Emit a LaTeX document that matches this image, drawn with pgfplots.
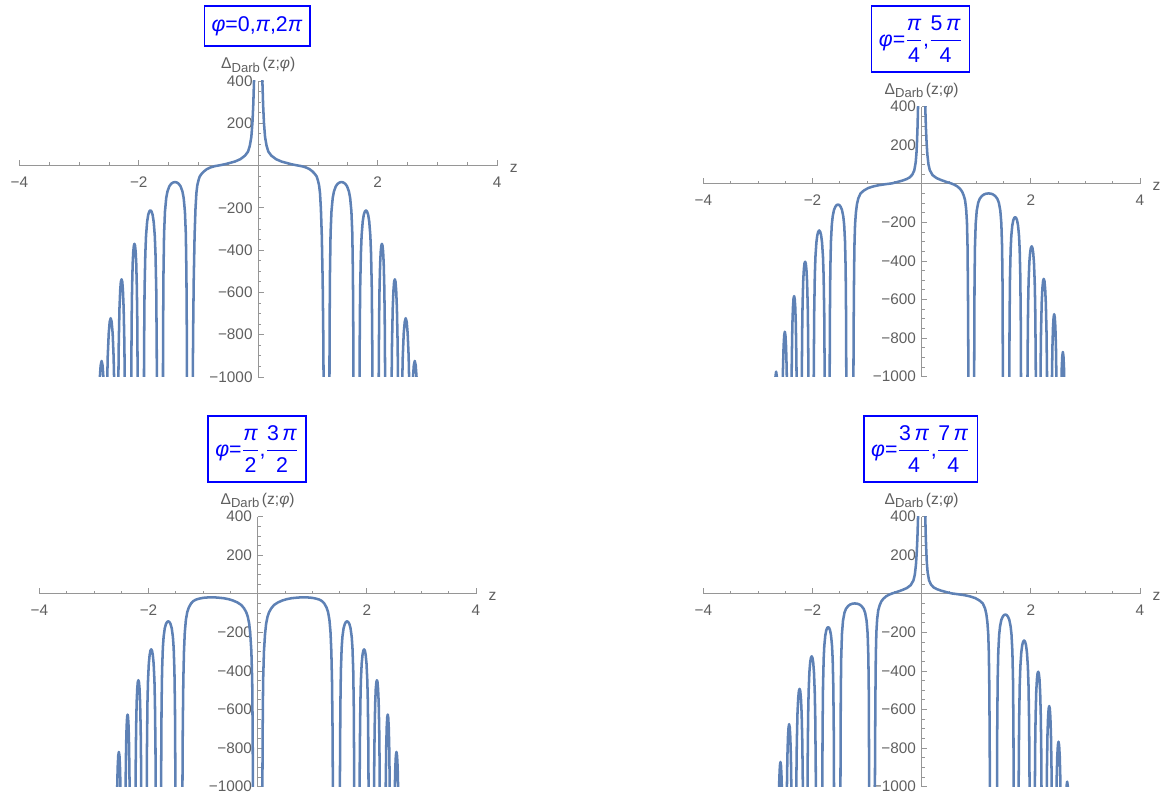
\documentclass[border=0pt]{standalone}
\usepackage{fontspec}
\setmainfont{Liberation Sans}
\usepackage{pgfplots}
\usepackage{pgfplotstable}
\pgfplotsset{compat=1.18}

\definecolor{curve}{RGB}{94,129,181}
\definecolor{axgray}{RGB}{150,150,150}
\definecolor{labgray}{RGB}{95,95,95}
\definecolor{ttlblue}{RGB}{0,0,255}

\newcommand\fr[2]{$\displaystyle\frac{\mbox{#1}}{\mbox{#2}}$}
\newcommand\darb{Δ\raisebox{-0.45ex}{\fontsize{9.8}{10}\selectfont Darb}\,(z;\textit{φ})}

% phi = 0, pi, 2pi : right half (left half is the mirror image)
\pgfplotstableread{
z v
0.064 470
0.070 400
0.082 290
0.096 204
0.115 135
0.140 94
0.170 66
0.220 47
0.300 30
0.390 19
0.480 12
0.560 6
0.650 1
0.730 -3
0.800 -9
0.860 -17
0.910 -28
0.950 -40
0.980 -52
1.000 -70
1.020 -94
1.035 -130
1.050 -204
1.065 -330
1.080 -550
1.090 -800
1.097 -1100
1.14 nan
1.190 -1580
1.195 -800
1.202 -508
1.212 -321
1.227 -217
1.248 -153
1.269 -122
1.300 -98
1.331 -86
1.363 -80
1.394 -78
1.425 -80
1.457 -86
1.488 -98
1.519 -122
1.540 -153
1.561 -217
1.576 -321
1.586 -508
1.593 -800
1.598 -1580
1.645 nan
1.693 -1380
1.699 -872
1.707 -589
1.720 -416
1.732 -331
1.750 -266
1.768 -233
1.787 -217
1.805 -212
1.823 -217
1.842 -233
1.860 -266
1.878 -331
1.890 -416
1.903 -589
1.911 -872
1.917 -1380
1.967 nan
2.018 -1028
2.025 -726
2.032 -578
2.042 -464
2.052 -407
2.062 -379
2.072 -370
2.082 -379
2.092 -407
2.102 -464
2.112 -578
2.119 -726
2.126 -1028
2.18 nan
2.233 -1055
2.241 -841
2.253 -675
2.265 -591
2.276 -550
2.288 -538
2.300 -550
2.311 -591
2.323 -675
2.335 -841
2.343 -1055
2.37 nan
2.404 -1128
2.421 -905
2.437 -794
2.454 -739
2.470 -722
2.487 -739
2.503 -794
2.520 -905
2.536 -1128
2.56 nan
2.589 -1015
2.606 -945
2.622 -924
2.638 -945
2.655 -1015
}\tblA

% phi = pi/2, 3pi/2 : right half (left half is the mirror image)
\pgfplotstableread{
z v
0.085 -1100
0.092 -700
0.100 -450
0.115 -300
0.135 -210
0.155 -155
0.180 -120
0.210 -95
0.250 -75
0.300 -58
0.370 -45
0.450 -35
0.530 -28
0.620 -23
0.720 -20
0.820 -18
0.920 -19
1.000 -21
1.070 -25
1.130 -30
1.180 -38
1.220 -50
1.260 -70
1.290 -95
1.315 -135
1.335 -200
1.350 -300
1.362 -450
1.372 -700
1.380 -1100
1.44 nan
1.504 -1467
1.508 -931
1.515 -588
1.525 -397
1.539 -280
1.553 -223
1.574 -179
1.596 -157
1.617 -146
1.638 -143
1.659 -146
1.681 -157
1.702 -179
1.723 -223
1.737 -280
1.751 -397
1.761 -588
1.768 -931
1.772 -1467
1.82 nan
1.865 -1185
1.872 -800
1.882 -565
1.891 -450
1.906 -361
1.921 -317
1.935 -295
1.950 -288
1.965 -295
1.979 -317
1.994 -361
2.009 -450
2.019 -565
2.028 -800
2.035 -1185
2.08 nan
2.129 -1245
2.136 -879
2.143 -700
2.154 -562
2.164 -492
2.175 -458
2.185 -448
2.196 -458
2.206 -492
2.217 -562
2.227 -700
2.234 -879
2.241 -1245
2.29 nan
2.341 -1228
2.347 -978
2.356 -785
2.365 -688
2.374 -640
2.383 -626
2.392 -640
2.401 -688
2.410 -785
2.419 -978
2.425 -1228
2.47 nan
2.511 -1028
2.522 -901
2.532 -839
2.543 -820
2.554 -839
2.565 -901
2.575 -1028
}\tblC

% phi = pi/4, 5pi/4 (phi = 3pi/4, 7pi/4 is its mirror image)
\pgfplotstableread{
z v
-2.6885 -1070
-2.6773 -996
-2.666 -974
-2.6547 -996
-2.6435 -1070
-2.60 nan
-2.5524 -1198
-2.541 -962
-2.5297 -843
-2.5183 -785
-2.507 -767
-2.4957 -785
-2.4843 -843
-2.473 -962
-2.4616 -1198
-2.42 nan
-2.3863 -1141
-2.3792 -909
-2.3687 -730
-2.3581 -640
-2.3476 -595
-2.337 -582
-2.3264 -595
-2.3159 -640
-2.3053 -730
-2.2948 -909
-2.2877 -1141
-2.24 nan
-2.1982 -1122
-2.1903 -792
-2.1824 -631
-2.1706 -507
-2.1587 -444
-2.1469 -413
-2.135 -404
-2.1231 -413
-2.1113 -444
-2.0994 -507
-2.0876 -631
-2.0797 -792
-2.0718 -1122
-2.03 nan
-1.9828 -1575
-1.977 -995
-1.969 -672
-1.9575 -475
-1.946 -378
-1.9288 -304
-1.9115 -266
-1.8943 -248
-1.877 -242
-1.8597 -248
-1.8425 -266
-1.8252 -304
-1.808 -378
-1.7965 -475
-1.785 -672
-1.777 -995
-1.7712 -1575
-1.73 nan
-1.6864 -1108
-1.6816 -703
-1.6735 -444
-1.6622 -300
-1.6461 -212
-1.6299 -169
-1.6057 -135
-1.5815 -119
-1.5572 -110
-1.533 -108
-1.5088 -110
-1.4845 -119
-1.4603 -135
-1.4361 -169
-1.4199 -212
-1.4038 -300
-1.3925 -444
-1.3844 -703
-1.3796 -1108
-1.32 nan
-1.252 -1100
-1.245 -700
-1.238 -450
-1.230 -300
-1.220 -210
-1.205 -150
-1.185 -105
-1.160 -75
-1.120 -50
-1.060 -35
-0.980 -22
-0.880 -13
-0.780 -7
-0.660 -2
-0.550 2
-0.450 9
-0.360 16
-0.280 24
-0.220 33
-0.170 48
-0.135 70
-0.110 110
-0.095 160
-0.085 220
-0.075 300
-0.068 380
-0.064 440
0 nan
0.062 450
0.068 380
0.078 290
0.090 215
0.105 150
0.125 100
0.150 70
0.200 45
0.270 30
0.360 19
0.450 10
0.540 2
0.600 -5
0.650 -13
0.700 -25
0.740 -40
0.770 -60
0.795 -85
0.815 -130
0.830 -200
0.840 -320
0.848 -550
0.853 -800
0.858 -1100
0.91 nan
0.9577 -2512
0.9617 -1013
0.9685 -513
0.9766 -326
0.9901 -206
1.009 -139
1.036 -98
1.063 -78
1.1035 -63
1.144 -55
1.1845 -51
1.225 -50
1.2655 -51
1.306 -55
1.3465 -63
1.387 -78
1.414 -98
1.441 -139
1.4599 -206
1.4734 -326
1.4815 -513
1.4883 -1013
1.4923 -2512
1.55 nan
1.6044 -1126
1.6103 -712
1.6186 -481
1.6304 -339
1.6422 -270
1.6599 -217
1.6776 -190
1.6953 -177
1.713 -173
1.7307 -177
1.7484 -190
1.7661 -217
1.7838 -270
1.7956 -339
1.8074 -481
1.8157 -712
1.8216 -1126
1.88 nan
1.9341 -1333
1.9406 -900
1.9499 -635
1.9592 -506
1.9731 -406
1.9871 -356
2.001 -332
2.015 -324
2.029 -332
2.0429 -356
2.0569 -406
2.0708 -506
2.0801 -635
2.0894 -900
2.0959 -1333
2.13 nan
2.1698 -1370
2.1782 -967
2.1866 -770
2.1992 -618
2.2118 -542
2.2244 -504
2.237 -493
2.2496 -504
2.2622 -542
2.2748 -618
2.2874 -770
2.2958 -967
2.3042 -1370
2.34 nan
2.3848 -1056
2.3956 -848
2.4064 -743
2.4172 -692
2.428 -676
2.4388 -692
2.4496 -743
2.4604 -848
2.4712 -1056
2.51 nan
2.5555 -1094
2.566 -958
2.5765 -892
2.587 -872
2.5975 -892
2.608 -958
2.6185 -1094
}\tblB

\pgfplotsset{
  darb/.style={
    scale only axis,
    axis lines=middle,
    axis line style={-, draw=axgray, line width=0.75pt},
    xmin=-4, xmax=4, ymin=-1000, ymax=400,
    enlargelimits=false,
    xtick={-4,-2,0,2,4},
    xticklabels={−4,−2,,2,4},
    ytick={-1000,-800,-600,-400,-200,0,200,400},
    yticklabels={−1000,−800,−600,−400,−200,,200,400},
    minor x tick num=3,
    minor y tick num=3,
    tick align=inside,
    major tick length=4pt,
    minor tick length=2.3pt,
    tick style={draw=axgray, line width=0.6pt},
    tick label style={font=\fontsize{11.5}{13}\selectfont, text=labgray},
    xticklabel style={yshift=-5pt},
    yticklabel style={xshift=-0.7pt},
    xlabel={z},
    ylabel={\darb},
    xlabel style={at={(rel axis cs:1,0.7143)}, anchor=west, xshift=6pt, yshift=-2pt,
      font=\fontsize{11.7}{13}\selectfont, text=labgray},
    ylabel style={at={(rel axis cs:0.5,1)}, anchor=south, yshift=3pt, rotate=0,
      font=\fontsize{11.7}{13}\selectfont, text=labgray},
    unbounded coords=jump,
    clip=true,
  },
  dcurve/.style={draw=curve, line width=1.9pt, line join=round, no markers},
}

\begin{document}
\begin{tikzpicture}
\useasboundingbox (0,0) rectangle (876pt,601.5pt);

\begin{axis}[darb, at={(14.5pt,318.75pt)}, anchor=south west, width=358.3pt, height=222pt]
  \addplot[dcurve] table[x=z, y=v] {\tblA};
  \addplot[dcurve] table[x expr=-\thisrow{z}, y=v] {\tblA};
\end{axis}

\begin{axis}[darb, at={(527.5pt,319pt)}, anchor=south west, width=327.5pt, height=202.5pt]
  \addplot[dcurve] table[x=z, y=v] {\tblB};
\end{axis}

\begin{axis}[darb, at={(29.5pt,11.5pt)}, anchor=south west, width=327.5pt, height=202.5pt]
  \addplot[dcurve] table[x=z, y=v] {\tblC};
  \addplot[dcurve] table[x expr=-\thisrow{z}, y=v] {\tblC};
\end{axis}

\begin{axis}[darb, at={(527.5pt,11.5pt)}, anchor=south west, width=327.5pt, height=202.5pt]
  \addplot[dcurve] table[x expr=-\thisrow{z}, y=v] {\tblB};
\end{axis}

\tikzset{ttl/.style={draw=ttlblue, line width=1.1pt, text=ttlblue, inner xsep=5.5pt, inner ysep=3pt,
  font=\fontsize{16}{18}\selectfont}}
\node[ttl, minimum height=30pt] at (192.75pt,582pt) {\textit{φ}=0,\textit{π},2\textit{π}};
\node[ttl, minimum height=49.5pt] at (690.4pt,572.25pt) {\textit{φ}=\fr{\textit{π}}{4},\fr{5\,\textit{π}}{4}};
\node[ttl, minimum height=49.5pt] at (192.75pt,264.75pt) {\textit{φ}=\fr{\textit{π}}{2},\fr{3\,\textit{π}}{2}};
\node[ttl, minimum height=49.5pt] at (690.4pt,264.75pt) {\textit{φ}=\fr{3\,\textit{π}}{4},\fr{7\,\textit{π}}{4}};
\end{tikzpicture}
\end{document}
